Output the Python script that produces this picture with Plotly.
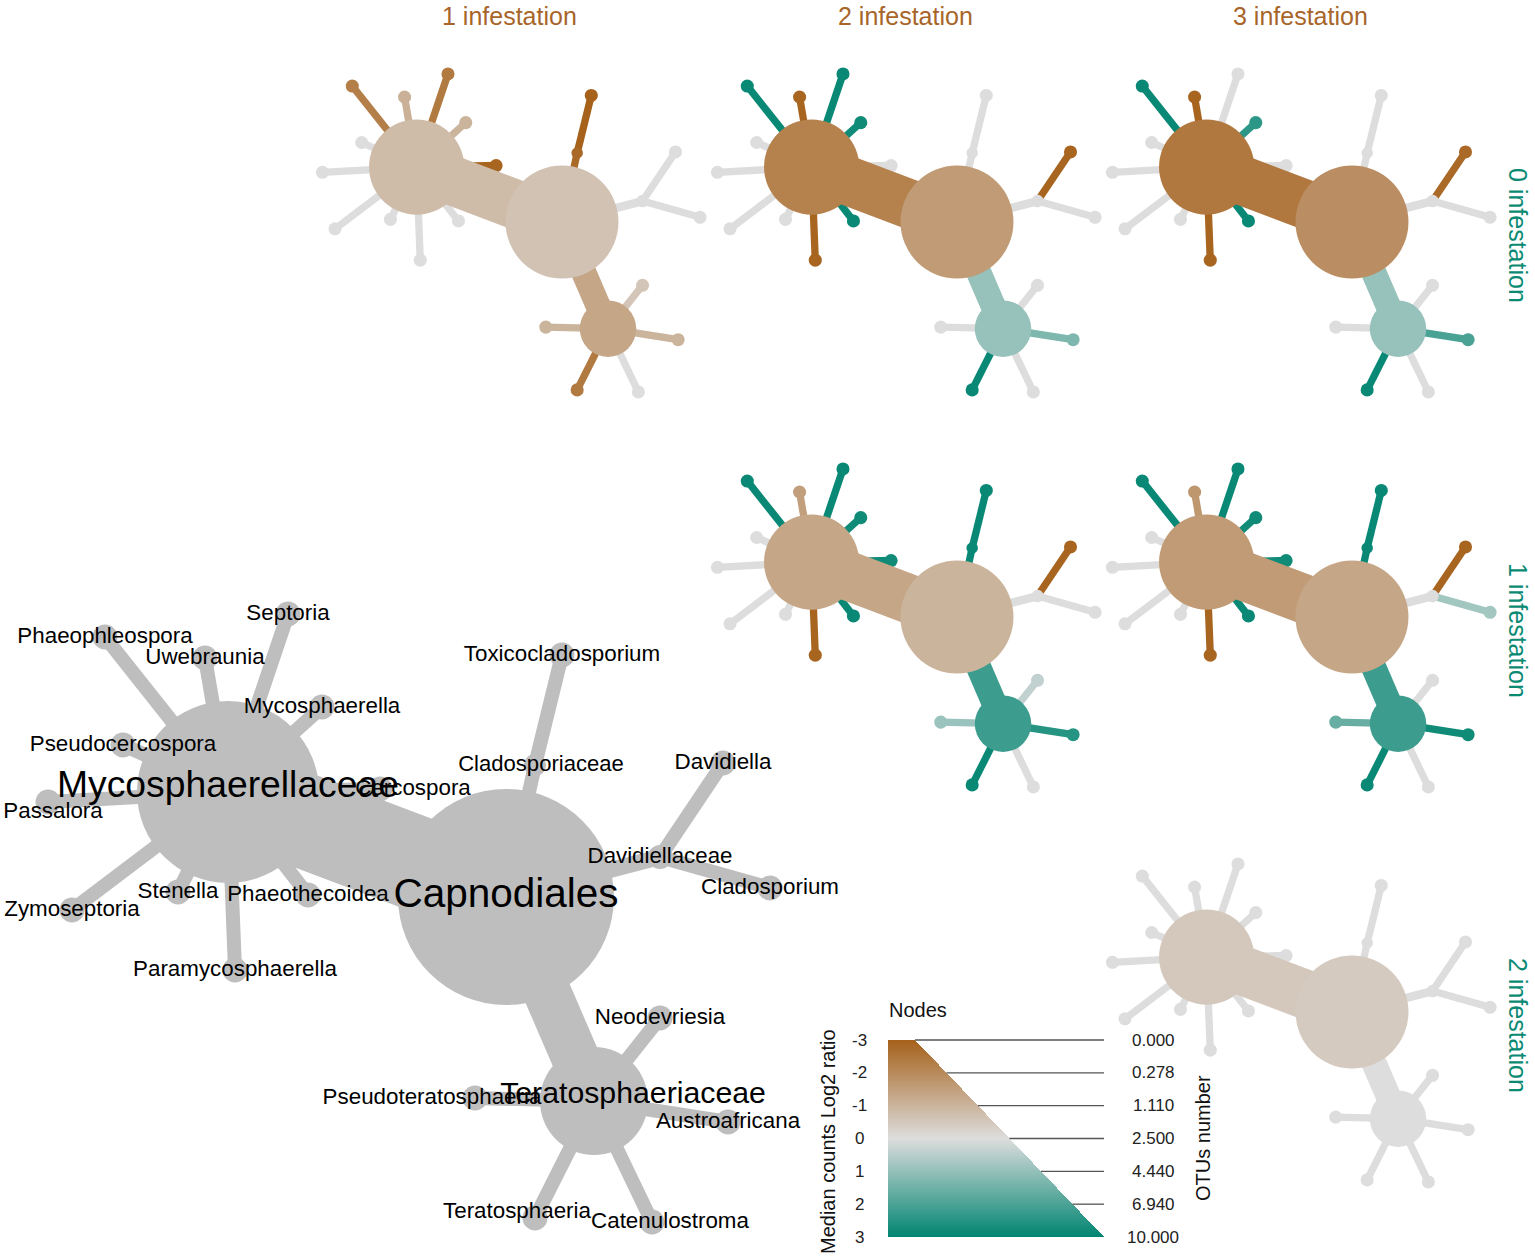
import plotly.graph_objects as go

W, H = 1535, 1257
FONT = "Liberation Sans, Arial, sans-serif"

# ---------------- data ----------------
taxa = ["Capnodiales", "Mycosphaerellaceae", "Cladosporiaceae", "Davidiellaceae",
        "Teratosphaeriaceae", "Septoria", "Phaeophleospora", "Uwebraunia",
        "Mycosphaerella", "Pseudocercospora", "Passalora", "Zymoseptoria", "Stenella",
        "Phaeothecoidea", "Paramycosphaerella", "Cercospora", "Toxicocladosporium",
        "Davidiella", "Cladosporium", "Neodevriesia", "Pseudoteratosphaeria",
        "Austroafricana", "Teratosphaeria", "Catenulostroma"]
parent = [-1, 0, 0, 0, 0, 1, 1, 1, 1, 1, 1, 1, 1, 1, 1, 1, 2, 3, 3, 4, 4, 4, 4, 4]

# tree layout coordinates (layout units, root at origin)
tree_x = [0, -278, 29, 154, 88, -218, -401, -301, -184, -383, -458, -434, -328,
          -198, -271, -126, 56, 217, 264, 154, -31, 222, 29, 146]
tree_y = [0, 105, 132, 40, -204, 283, 260, 239, 190, 152, 95, -13, 5,
          2, -73, 108, 242, 134, 9, -121, -201, -225, -321, -325]

# node size (OTU-number encoding) and edge size
node_size = [108, 91, 11, 12, 54] + [12.5] * 19
edge_size = [0, 94, 14, 16, 48] + [14] * 19

col_labels = ["1 infestation", "2 infestation", "3 infestation"]
row_labels = ["0 infestation", "1 infestation", "2 infestation"]

# median counts log2 ratio per node, one list per comparison
log2_0v1 = [-0.65, -0.8, -2.8, 0, -1.3, -2.4, -2.3, -1.1, -1.0, 0, 0, 0, 0, 0, 0, -2.9,
            -3.0, 0, 0, -0.55, -1.0, -1.0, -2.4, 0]
log2_0v2 = [-1.6, -2.2, 0, 0, 0.95, 2.9, 2.9, -2.9, 2.8, 0, 0, 0, 0, 2.9, -2.9, 0,
            0, -2.9, 0, 0, 0, 1.3, 2.9, 0]
log2_0v3 = [-1.9, -2.45, 0, 0, 0.95, 0, 2.9, -2.9, 2.4, 0, 0, 0, 0, 2.9, -2.9, 0,
            0, -2.8, 0, 0, 0, 2.0, 2.9, 0]
log2_1v2 = [-1.0, -1.3, 2.9, 0, 2.2, 2.9, 2.9, -1.5, 2.8, 0, 0, 0, 0, 2.9, -2.9, 2.8,
            2.9, -2.9, 0, 0.4, 0.9, 2.5, 2.9, 0]
log2_1v3 = [-1.3, -1.6, 2.9, 0, 2.2, 2.9, 2.9, -1.7, 2.8, 0, 0, 0, 0, 2.9, -2.9, 2.8,
            2.9, -2.9, 0.8, 0, 1.6, 2.8, 2.9, 0]
log2_2v3 = [-0.45, -0.5] + [0] * 22

color_legend_ticks = [-3, -2, -1, 0, 1, 2, 3]
size_legend_ticks = ["0.000", "0.278", "1.110", "2.500", "4.440", "6.940", "10.000"]

# ---------------- styles ----------------
BROWN = (166, 97, 26)
GRAY = (221, 221, 221)
TEAL = (1, 133, 113)
KEY_GRAY = "#BEBEBE"
HEAD_COL = "#A8652A"
ROW_COL = "#0B8A73"
# label nudges (key pixels, +x right, +y down) as placed in the original
label_dx = [0] * 24
label_dy = [0] * 24
label_dx[4], label_dy[4] = 39, -6
label_dy[1] = -4
label_dx[15] = 33
label_dx[2] = 6
label_dx[10], label_dy[10] = 5, 10
label_dx[20] = -43
label_dx[22], label_dy[22] = -18, -6
label_dx[23] = 18


def mix(a, b, t):
    return tuple(round(a[i] + (b[i] - a[i]) * t) for i in range(3))


def val_color(v):
    v = max(-3, min(3, v))
    if v <= 0:
        c = mix(GRAY, BROWN, -v / 3)
    else:
        c = mix(GRAY, TEAL, v / 3)
    return "rgb(%d,%d,%d)" % c


fig = go.Figure()
axes = {}


def names(n):
    return ("x" if n == 1 else f"x{n}", "y" if n == 1 else f"y{n}")


def set_axes(n, box, xr, yr):
    x0, x1, y0, y1 = box
    xn, yn = names(n)
    axes["xaxis" if n == 1 else f"xaxis{n}"] = dict(
        domain=[x0 / W, x1 / W], range=xr, visible=False, anchor=yn, fixedrange=True)
    axes["yaxis" if n == 1 else f"yaxis{n}"] = dict(
        domain=[1 - y1 / H, 1 - y0 / H], range=yr, visible=False, anchor=xn, fixedrange=True)


def add_tree(n, cx, cy, s, box, values, labels=False):
    x0, x1, y0, y1 = box
    set_axes(n, box, [(x0 - cx) / s, (x1 - cx) / s], [(cy - y1) / s, (cy - y0) / s])
    xn, yn = names(n)
    cols = [KEY_GRAY] * len(taxa) if values is None else [val_color(v) for v in values]
    N = len(taxa)
    small = [c for c in range(1, N) if node_size[c] < 30]
    big = sorted([c for c in range(1, N) if node_size[c] >= 30], key=lambda c: node_size[c])

    def edge(c):
        p = parent[c]
        fig.add_trace(go.Scatter(
            x=[tree_x[c], tree_x[p]], y=[tree_y[c], tree_y[p]], mode="lines",
            line=dict(color=cols[c], width=edge_size[c] * s),
            xaxis=xn, yaxis=yn, hoverinfo="skip", showlegend=False))

    def nodes(idx):
        fig.add_trace(go.Scatter(
            x=[tree_x[i] for i in idx], y=[tree_y[i] for i in idx], mode="markers",
            marker=dict(size=[2 * node_size[i] * s for i in idx],
                        color=[cols[i] for i in idx], line=dict(width=0), opacity=1),
            xaxis=xn, yaxis=yn, hoverinfo="skip", showlegend=False, cliponaxis=False))

    for c in small:
        edge(c)
    nodes([c for c in range(N) if node_size[c] < 30])
    for c in big:
        edge(c)
    nodes(sorted([c for c in range(N) if node_size[c] >= 30], key=lambda c: node_size[c]))

    if labels:
        fig.add_trace(go.Scatter(
            x=[tree_x[i] + label_dx[i] / s for i in range(N)],
            y=[tree_y[i] - label_dy[i] / s for i in range(N)],
            mode="text", text=taxa, textposition="middle center",
            textfont=dict(size=[20.0 + 0.19 * node_size[i] for i in range(N)],
                          color="black", family=FONT),
            xaxis=xn, yaxis=yn, hoverinfo="skip", showlegend=False, cliponaxis=False))


# small comparison trees
S = 0.523
panels = [(0, 0, log2_0v1), (0, 1, log2_0v2), (0, 2, log2_0v3),
          (1, 1, log2_1v2), (1, 2, log2_1v3), (2, 2, log2_2v3)]
annotations = []
n = 1
for r, c, vals in panels:
    cx = 562 + 395 * c
    cy = 222 + 395 * r
    add_tree(n, cx, cy, S, (cx - 265, cx + 165, cy - 160, cy + 185), vals)
    n += 1

# key tree
add_tree(n, 506, 897, 1.0, (0, 850, 575, 1257), None, labels=True)
n += 1

# headers
for c, t in enumerate(col_labels):
    annotations.append(dict(text=t, x=(510 + 395 * c) / W, y=1.0, xref="paper",
                            yref="paper", showarrow=False, xanchor="center", yanchor="top",
                            font=dict(size=25, color=HEAD_COL, family=FONT)))
for r, t in enumerate(row_labels):
    annotations.append(dict(text=t, x=1518 / W, y=1 - (235 + 395 * r) / H, xref="paper",
                            yref="paper", showarrow=False, xanchor="center", yanchor="middle",
                            textangle=90, font=dict(size=25, color=ROW_COL, family=FONT)))

# ---------------- legend ----------------
LX0, LX1, LY0, LY1 = 888, 1104, 1040, 1237     # triangle box
BX0, BX1, BY0, BY1 = 808, 1218, 995, 1257      # legend axes box
LW = LX1 - LX0
ppu = (LY1 - LY0) / 6.0
set_axes(n, (BX0, BX1, BY0, BY1), [BX0 - LX0, BX1 - LX0],
         [-3 + (BY1 - LY0) / ppu, -3 + (BY0 - LY0) / ppu])
lxn, lyn = names(n)


def tri_w(v):
    return 27 + (LW - 27) * (v + 3) / 6


ny, nx = LY1 - LY0, LW
ys = [-3 + 6 * (i + 0.5) / ny for i in range(ny)]
xs = [j + 0.5 for j in range(nx)]
z = [[yv if xv <= tri_w(yv) else None for xv in xs] for yv in ys]
fig.add_trace(go.Heatmap(
    x=xs, y=ys, z=z, zmin=-3, zmax=3, showscale=False, hoverinfo="skip",
    colorscale=[[0, "rgb(%d,%d,%d)" % BROWN], [0.5, "rgb(%d,%d,%d)" % GRAY],
                [1, "rgb(%d,%d,%d)" % TEAL]],
    xaxis=lxn, yaxis=lyn))
for v in color_legend_ticks[:-1]:
    fig.add_trace(go.Scatter(x=[tri_w(v), LW], y=[v, v], mode="lines",
                             line=dict(color="#555555", width=1.3), xaxis=lxn, yaxis=lyn,
                             hoverinfo="skip", showlegend=False, cliponaxis=False))
for v, t in zip(color_legend_ticks, size_legend_ticks):
    annotations.append(dict(text=str(v), x=-29, y=v, xref=lxn, yref=lyn, showarrow=False,
                            xanchor="center", yanchor="middle",
                            font=dict(size=17, color="#222222", family=FONT)))
    annotations.append(dict(text=t, x=265, y=v, xref=lxn, yref=lyn, showarrow=False,
                            xanchor="center", yanchor="middle",
                            font=dict(size=17, color="#222222", family=FONT)))
annotations.append(dict(text="Nodes", x=30, y=-3 - 30 / ppu, xref=lxn, yref=lyn,
                        showarrow=False, xanchor="center", yanchor="middle",
                        font=dict(size=20, color="#111111", family=FONT)))
annotations.append(dict(text="Median counts Log2 ratio", x=-60, y=-3 + 102 / ppu, xref=lxn,
                        yref=lyn, showarrow=False, xanchor="center", yanchor="middle",
                        textangle=-90, font=dict(size=20, color="#111111", family=FONT)))
annotations.append(dict(text="OTUs number", x=315, y=-3 + 98 / ppu, xref=lxn, yref=lyn,
                        showarrow=False, xanchor="center", yanchor="middle", textangle=-90,
                        font=dict(size=20, color="#111111", family=FONT)))

fig.update_layout(width=W, height=H, autosize=False,
                  margin=dict(l=0, r=0, t=0, b=0, pad=0),
                  paper_bgcolor="white", plot_bgcolor="rgba(0,0,0,0)",
                  showlegend=False, annotations=annotations, **axes)

fig.write_html("out.html", config={"displayModeBar": False},
               post_script="document.body.style.margin='0px';document.body.style.overflow='hidden';")
